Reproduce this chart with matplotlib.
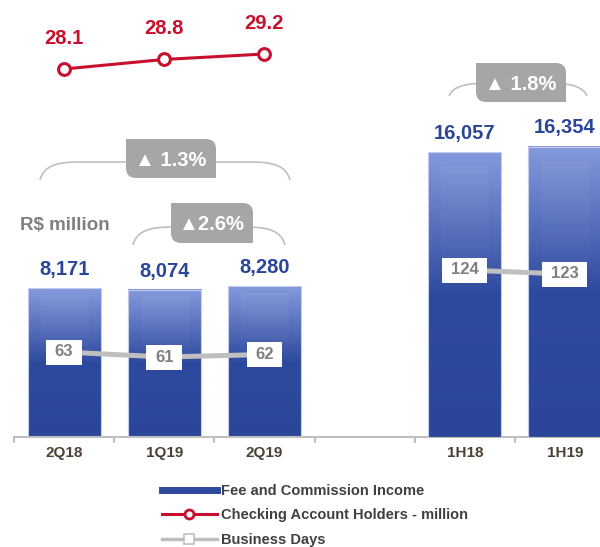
import numpy as np
import matplotlib.pyplot as plt
from matplotlib.colors import LinearSegmentedColormap
from matplotlib.path import Path
from matplotlib.patches import PathPatch
from matplotlib.lines import Line2D
from matplotlib.transforms import Affine2D

plt.rcParams['font.family'] = ['Liberation Sans', 'DejaVu Sans']
plt.rcParams['font.weight'] = 'bold'

# data
quarters = ['2Q18', '1Q19', '2Q19']
quarter_fee = [8171, 8074, 8280]
quarter_days = [63, 61, 62]
checking_holders = [28.1, 28.8, 29.2]
halves = ['1H18', '1H19']
half_fee = [16057, 16354]
half_days = [124, 123]
growth_labels = ['▲ 1.3%', '▲2.6%', '▲ 1.8%']

x_q = [0, 1, 2]
x_h = [4, 5]
categories = quarters + [''] + halves

W, H = 600, 547
AX_BOTTOM = 437  # pixel row (from top) of the category axis

BLUE_TXT = '#2B4699'
RED = '#C8102E'
GREY_LINE = '#BFBFBF'
GREY_TXT = '#7F7F7F'

fig = plt.figure(figsize=(W / 100, H / 100), dpi=100)
ax = fig.add_axes([14 / W, (H - AX_BOTTOM) / H, 586 / W, AX_BOTTOM / H])
ax_h = ax.twinx()
ax_chk = ax.twinx()
ax_dq = ax.twinx()
ax_dh = ax.twinx()


def lims(v1, p1, v2, p2):
    # y-limits so that value v1 sits at pixel row p1 and v2 at p2
    s = (v1 - v2) / (p2 - p1)
    return v1 - (AX_BOTTOM - p1) * s, v1 + p1 * s


# bar gradient
cmap = LinearSegmentedColormap.from_list(
    'fee', [(0, '#8599DD'), (0.5, '#2E4A9E'), (1, '#2B4699')])
grad = cmap(np.linspace(0, 1, 256))[:, None, :]
hl = np.zeros((256, 1, 4))
hl[..., :3] = 1
hl[:, 0, 3] = np.clip(0.05 * (1 - np.linspace(0, 1, 256) / 0.5), 0, None)


def grad_bars(a, xs, vals):
    bars = a.bar(xs, vals, width=0.73, facecolor='none',
                 edgecolor='#C3CCEC', linewidth=0.8, zorder=3)
    for b, v in zip(bars, vals):
        x0, w, h = b.get_x(), b.get_width(), b.get_height()
        a.imshow(grad, extent=(x0, x0 + w, 0, h), aspect='auto',
                 origin='upper', zorder=2, interpolation='bilinear')
        a.imshow(hl, extent=(x0 + 0.13, x0 + w - 0.13, 0, h * 0.95),
                 aspect='auto', origin='upper', zorder=2.5,
                 interpolation='bilinear')
        a.annotate(f'{v:,}', (x0 + w / 2, h), xytext=(0, 13.5),
                   textcoords='offset points', ha='center', va='center',
                   fontsize=14.5, color=BLUE_TXT)
    return bars


grad_bars(ax, x_q, quarter_fee)
grad_bars(ax_h, x_h, half_fee)

# checking account holders
ax_chk.plot(x_q, checking_holders, color=RED, lw=2.2, marker='o', ms=8.5,
            mfc='white', mec=RED, mew=2.2, zorder=4)
for x, v in zip(x_q, checking_holders):
    ax_chk.annotate(f'{v:.1f}', (x, v), xytext=(0, 22),
                    textcoords='offset points', ha='center', va='center',
                    fontsize=14.5, color=RED)


# business days
def wide_box(x0, y0, width, height, mutation_scale=1):
    px, py = 0.52 * mutation_scale, 0.3 * mutation_scale
    return Path.unit_rectangle().transformed(
        Affine2D().scale(width + 2 * px, height + 2 * py)
        .translate(x0 - px, y0 - py))


for a, xs, days in [(ax_dq, x_q, quarter_days), (ax_dh, x_h, half_days)]:
    a.plot(xs, days, color=GREY_LINE, lw=3.6, solid_capstyle='butt', zorder=3)
    for x, d in zip(xs, days):
        a.text(x, d, str(d), ha='center', va='center', fontsize=12,
               color=GREY_TXT, zorder=5,
               bbox=dict(boxstyle=wide_box, facecolor='white',
                         edgecolor='none'))

# scales
for a in (ax, ax_h, ax_chk, ax_dq, ax_dh):
    a.set_xlim(-0.5, 5.35)
ax.set_ylim(*lims(0, AX_BOTTOM, quarter_fee[0], 288))
ax_h.set_ylim(*lims(0, AX_BOTTOM, half_fee[0], 152))
ax_chk.set_ylim(*lims(checking_holders[0], 69, checking_holders[2], 54))
ax_dq.set_ylim(*lims(quarter_days[0], 352, quarter_days[1], 357))
ax_dh.set_ylim(*lims(half_days[0], 270, half_days[1], 274))
for a in (ax_h, ax_chk, ax_dq, ax_dh):
    a.axis('off')

# category axis
for s in ('left', 'right', 'top'):
    ax.spines[s].set_visible(False)
ax.spines['bottom'].set_color(GREY_LINE)
ax.spines['bottom'].set_linewidth(1.5)
ax.set_yticks([])
ax.set_xticks(range(len(categories)))
ax.set_xticklabels(categories, fontsize=11, color='#4A4234')
ax.set_xticks(np.arange(len(categories)) - 0.5, minor=True)
ax.tick_params(axis='x', which='major', length=0, pad=6.5)
ax.tick_params(axis='x', which='minor', length=4, width=1.5,
               color=GREY_LINE)

# decorations in pixel coordinates
deco = fig.add_axes([0, 0, 1, 1])
deco.set_xlim(0, W)
deco.set_ylim(H, 0)
deco.axis('off')


def bracket(xl, xr, y_end, y_top, r=40):
    verts = [(xl, y_end), (xl + 4, y_top + 3), (xl + r * 0.45, y_top),
             (xl + r, y_top), (xr - r, y_top), (xr - r * 0.45, y_top),
             (xr - 4, y_top + 3), (xr, y_end)]
    codes = [Path.MOVETO, Path.CURVE4, Path.CURVE4, Path.CURVE4,
             Path.LINETO, Path.CURVE4, Path.CURVE4, Path.CURVE4]
    deco.add_patch(PathPatch(Path(verts, codes), fill=False,
                             edgecolor=GREY_LINE, lw=1.2))


def diag_box(cx, cy, w, h, r=10):
    x0, x1, yt, yb = cx - w / 2, cx + w / 2, cy - h / 2, cy + h / 2
    verts = [(x0, yt), (x1 - r, yt), (x1, yt), (x1, yt + r), (x1, yb),
             (x0 + r, yb), (x0, yb), (x0, yb - r), (x0, yt)]
    codes = [Path.MOVETO, Path.LINETO, Path.CURVE3, Path.CURVE3,
             Path.LINETO, Path.LINETO, Path.CURVE3, Path.CURVE3,
             Path.CLOSEPOLY]
    deco.add_patch(PathPatch(Path(verts, codes), facecolor='#A6A6A6',
                             edgecolor='none'))


spans = [(40, 290, 180, 162), (133, 285, 245, 227), (449, 587, 96, 83)]
boxes = [(171, 158.5, 90, 39), (212, 223, 82, 40), (521, 82.5, 90, 39)]
for sp, bx, lab in zip(spans, boxes, growth_labels):
    bracket(*sp)
    diag_box(*bx)
    deco.text(bx[0], bx[1] + 2, lab, ha='center', va='center',
              fontsize=14.5, color='white')

deco.text(20, 226, 'R$ million', ha='left', va='center', fontsize=13.5,
          color=GREY_TXT)

# legend
handles = [
    Line2D([], [], color='#2E4A9E', lw=5),
    Line2D([], [], color=RED, lw=2.2, marker='o', ms=6.5, mfc='white',
           mec=RED, mew=2),
    Line2D([], [], color=GREY_LINE, lw=2.5, marker='s', ms=6.5, mfc='white',
           mec=GREY_LINE, mew=1.2),
]
labels = ['Fee and Commission Income', 'Checking Account Holders - million',
          'Business Days']
fig.legend(handles, labels, loc='upper left',
           bbox_to_anchor=(162 / W, 1 - 484 / H), frameon=False,
           fontsize=10.5, labelcolor='#404040', handlelength=3.77,
           handletextpad=0.27, labelspacing=0.72, borderpad=0,
           borderaxespad=0)

fig.savefig('out.png', dpi=100)
